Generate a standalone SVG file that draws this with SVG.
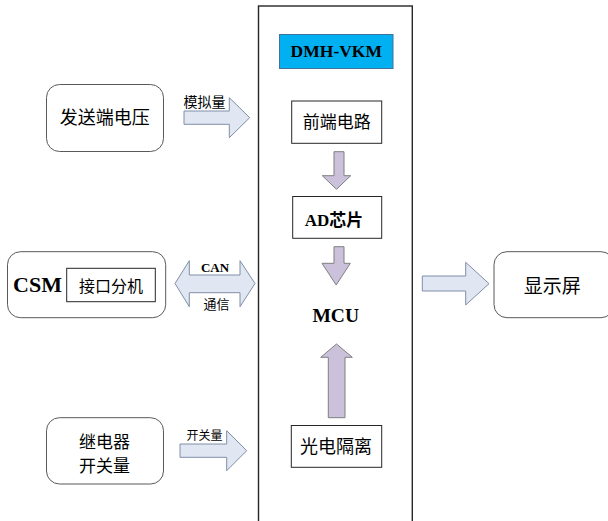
<svg xmlns="http://www.w3.org/2000/svg" width="608" height="521" viewBox="0 0 608 521">
<style>
.cn{font-family:"Noto Sans CJK SC","Noto Sans",sans-serif;fill:#000;text-anchor:middle}
.lat{font-family:"Liberation Serif",serif;font-weight:bold;fill:#000;text-anchor:middle}
.rr{fill:#fff;stroke:#595959;stroke-width:1}
.box{fill:#fff;stroke:#262626;stroke-width:1}
.harrow{fill:#e1e7f2;stroke:#7f8ea8;stroke-width:1}
.varrow{fill:#ccc1da;stroke:#7f7f7f;stroke-width:1}
</style>
<rect width="608" height="521" fill="#fff"/>
<g id="dmh-main">
<rect x="258.5" y="6" width="153.8" height="530" fill="none" stroke="#262626" stroke-width="1.4"/>
</g>
<g id="dmh-title">
<rect x="279.5" y="34.5" width="113.5" height="34" fill="#00b0f0" stroke="#41719c" stroke-width="1"/>
<text class="lat" x="336.3" y="56.7" font-size="17.5">DMH-VKM</text>
</g>
<g id="send-voltage">
<rect class="rr" x="46.5" y="84.5" width="117" height="67" rx="13"/>
<text class="cn" x="104.8" y="123.8" font-size="18">发送端电压</text>
</g>
<g id="frontend">
<rect class="box" x="291.7" y="101" width="90" height="42.3"/>
<text class="cn" x="336.7" y="128" font-size="17">前端电路</text>
</g>
<g id="ad-chip">
<rect class="box" x="292.7" y="196.5" width="89" height="41.8"/>
<text x="334" y="226" font-size="17" text-anchor="middle"><tspan font-family="Liberation Serif,serif" font-weight="bold">AD</tspan><tspan font-family="Noto Sans CJK SC,sans-serif" font-weight="bold">芯片</tspan></text>
</g>
<g id="mcu">
<text class="lat" x="335.7" y="322" font-size="19.5">MCU</text>
</g>
<g id="opto">
<rect class="box" x="291.3" y="425.5" width="90.4" height="41.8"/>
<text class="cn" x="336" y="453.3" font-size="18">光电隔离</text>
</g>
<g id="csm">
<rect class="rr" x="7.5" y="251.7" width="158.2" height="66" rx="13"/>
<text class="lat" x="37.5" y="291.7" font-size="22">CSM</text>
<rect class="box" x="66.7" y="268.3" width="88.6" height="33.4" stroke="#404040"/>
<text class="cn" x="111" y="291.6" font-size="16">接口分机</text>
</g>
<g id="display">
<rect class="rr" x="494" y="251.7" width="120" height="66" rx="13"/>
<text class="cn" x="552.3" y="292.7" font-size="19">显示屏</text>
</g>
<g id="relay">
<rect class="rr" x="46.5" y="417.7" width="117" height="66.3" rx="13"/>
<text class="cn" x="104.5" y="448" font-size="17">继电器</text>
<text class="cn" x="104.5" y="472" font-size="17">开关量</text>
</g>
<g id="connectors">
<polygon class="harrow" points="184,111 229.3,111 229.3,97.7 249.7,117.7 229.3,137.7 229.3,124.3 184,124.3"/>
<text class="cn" x="204.5" y="106.8" font-size="14">模拟量</text>
<polygon class="harrow" points="175,283.5 189.3,260.7 189.3,275 240,275 240,260.7 255,283.5 240,306.7 240,292.7 189.3,292.7 189.3,306.7"/>
<text class="lat" x="215" y="271.5" font-size="13">CAN</text>
<text class="cn" x="216.5" y="309" font-size="13">通信</text>
<polygon class="harrow" points="180,444 226.7,444 226.7,430.7 246.7,450.7 226.7,470.7 226.7,457.3 180,457.3"/>
<text class="cn" x="204.5" y="439.5" font-size="12">开关量</text>
<polygon class="harrow" points="422.3,276 465.7,276 465.7,262.3 489,283.7 465.7,305 465.7,291 422.3,291"/>
<polygon class="varrow" points="334,151.7 344,151.7 344,175.7 350.7,175.7 336.5,189.3 322.3,175.7 334,175.7"/>
<polygon class="varrow" points="334,246.7 344,246.7 344,263.3 350.3,263.3 336.2,285 322,263.3 334,263.3"/>
<polygon class="varrow" points="328.3,417.7 345,417.7 345,357.3 352.3,357.3 336.5,344 320.7,357.3 328.3,357.3"/>
</g>
</svg>
